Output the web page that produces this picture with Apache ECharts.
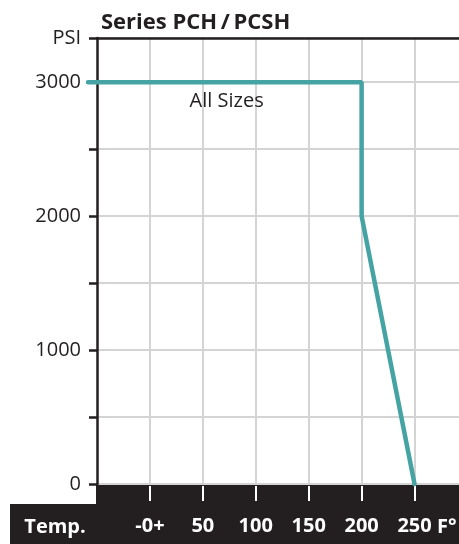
<!DOCTYPE html>
<html>
<head>
<meta charset="utf-8">
<script src="https://cdn.jsdelivr.net/npm/echarts@6/dist/echarts.min.js"></script>
<style>
html,body{margin:0;padding:0;background:#fff;}
#c{width:459px;height:544px;}
</style>
</head>
<body>
<div id="c"></div>
<script>
// Data
var linePoints = [[-58.5, 3000], [200, 3000], [200, 2000], [250, 0]];
var xTickValues = [0, 50, 100, 150, 200, 250];
var xTickLabels = ['-0+', '50', '100', '150', '200', '250'];
var yLabelValues = [0, 1000, 2000, 3000, 3330];
var yLabelTexts = ['0', '1000', '2000', '3000', 'PSI'];
var xMin = -50, xMax = 292, xLineMin = -58.5;
var yMax = 3330;
var annotation = {text: 'All Sizes', x: 72.5, y: 2855};

var dark = '#231f20';
var teal = '#46a3a3';
var font = 'Open Sans';

// pixel scale shared by both grids so the line (which starts left of the axis) lines up
var gridLeft = 97, gridRight = 0, W = 459;
var pxPerUnit = (W - gridLeft - gridRight) / (xMax - xMin);
var lineGridLeft = gridLeft - (xMin - xLineMin) * pxPerUnit;

var chart = echarts.init(document.getElementById('c'));
chart.setOption({
  animation: false,
  backgroundColor: '#fff',
  title: {
    text: 'Series PCH\u2009/\u2009PCSH',
    left: 96, top: 7,
    textStyle: {fontFamily: font, fontSize: 22, fontWeight: 'bold', color: dark}
  },
  grid: [
    {left: gridLeft, right: gridRight, top: 38, bottom: 60, containLabel: false},
    {left: lineGridLeft, right: gridRight, top: 38, bottom: 60, containLabel: false}
  ],
  xAxis: [{
    gridIndex: 0, type: 'value', min: xMin, max: xMax, interval: 50,
    position: 'bottom', offset: 2,
    axisLine: {show: false, onZero: false},
    axisTick: {show: true, length: 15, lineStyle: {color: '#fff', width: 2}, customValues: xTickValues},
    axisLabel: {
      show: true, margin: 30, color: '#fff', fontFamily: font, fontSize: 20, fontWeight: 'bold',
      customValues: xTickValues,
      formatter: function (v) { var i = xTickValues.indexOf(v); return i >= 0 ? xTickLabels[i] : ''; }
    },
    splitLine: {show: true, lineStyle: {color: '#d4d4d4', width: 2}}
  }, {
    gridIndex: 0, type: 'value', min: xMin, max: xMax, position: 'top',
    axisLine: {show: true, onZero: false, lineStyle: {color: dark, width: 2.5}},
    axisTick: {show: false}, axisLabel: {show: false}, splitLine: {show: false}
  }, {
    gridIndex: 1, type: 'value', min: xLineMin, max: xMax, show: false
  }],
  yAxis: [{
    gridIndex: 0, type: 'value', min: 0, max: yMax, interval: 500,
    axisLine: {show: true, onZero: false, lineStyle: {color: dark, width: 2.5}},
    axisTick: {show: true, length: 8, lineStyle: {color: dark, width: 2.5}},
    axisLabel: {
      show: true, margin: 16, color: dark, fontFamily: font, fontSize: 20,
      showMaxLabel: true,
      formatter: function (v) { var i = yLabelValues.indexOf(v); return i >= 0 ? yLabelTexts[i] : ''; }
    },
    splitLine: {show: true, lineStyle: {color: '#d4d4d4', width: 2}}
  }, {
    gridIndex: 1, type: 'value', min: 0, max: yMax, show: false
  }],
  graphic: [
    {type: 'rect', z: -10, shape: {x: 96, y: 483, width: 363, height: 22}, style: {fill: dark}},
    {type: 'rect', z: -10, shape: {x: 10, y: 504, width: 449, height: 40}, style: {fill: dark}},
    {type: 'text', z: 10, x: 55, y: 527, style: {text: 'Temp.', fill: '#fff', font: 'bold 20px "Open Sans"', textAlign: 'center', textVerticalAlign: 'middle'}},
    {type: 'text', z: 10, x: 437, y: 527, style: {text: 'F°', fill: '#fff', font: 'bold 20px "Open Sans"', textAlign: 'left', textVerticalAlign: 'middle'}}
  ],
  series: [{
    type: 'line',
    xAxisIndex: 2, yAxisIndex: 1,
    data: linePoints,
    clip: false,
    symbol: 'none',
    z: 5,
    lineStyle: {color: teal, width: 4.5, cap: 'round'}
  }, {
    type: 'scatter',
    xAxisIndex: 0, yAxisIndex: 0,
    data: [],
    markPoint: {
      symbol: 'circle', symbolSize: 0,
      label: {show: true, position: 'inside', formatter: annotation.text, color: dark, fontFamily: font, fontSize: 20},
      data: [{coord: [annotation.x, annotation.y]}]
    }
  }]
});
</script>
</body>
</html>
